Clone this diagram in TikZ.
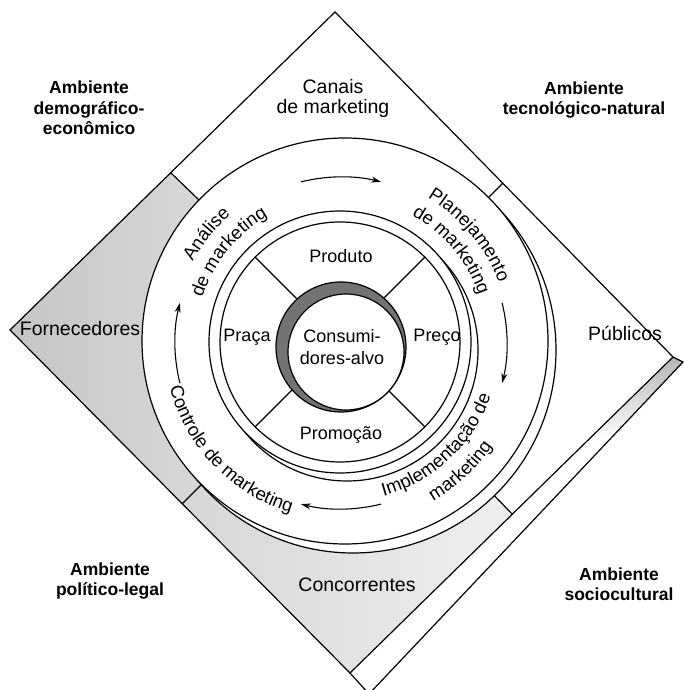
\documentclass[tikz,border=0pt]{standalone}
\usepackage{fontspec}
\setmainfont{Liberation Sans}
\usetikzlibrary{arrows.meta}
\usetikzlibrary{decorations.text}

\newcommand\envfont{\fontsize{17.5}{20.5}\selectfont\bfseries}
\newcommand\actfont{\fontsize{19.5}{20}\selectfont}
\newcommand\procfont{\fontsize{18.5}{20}\selectfont}
\newcommand\mixfont{\fontsize{18}{22}\selectfont}

\tikzset{rim/.style={draw=black,line width=1.2pt},
         disk/.style={rim,fill=white},
         envlabel/.style={align=center,font=\envfont,inner sep=0pt},
         actlabel/.style={align=center,font=\actfont,inner sep=0pt},
         mixlabel/.style={align=center,font=\mixfont,inner sep=0pt},
         cycle arrow/.style={line width=1.1pt,-{Stealth[length=10pt,width=6pt]}},
         arc text/.style={decorate,decoration={text along path,text align=center,text={|\procfont|#1}}},
         }

\begin{document}
\begin{tikzpicture}[x=1pt,y=1pt]
\useasboundingbox (0,0) rectangle (684,690);

% corners of the board and of its lower edge
\coordinate (top) at (335,678);
\coordinate (right) at (673,333);
\coordinate (bottom) at (350,17);
\coordinate (left) at (10,360);
\coordinate (rightlow) at (683,328);
\coordinate (bottomlow) at (369,-4);

% centres of the disks
\coordinate (oc) at (345,349);
\coordinate (ac) at (341,347);
\coordinate (pc) at (340,348);
\coordinate (dc) at (341,343);
\coordinate (cc) at (346,338);

% shaded sectors and dividers of the board
\begin{scope}
  \clip (top) -- (right) -- (bottom) -- (left) -- cycle;
  \shade[left color=gray!55,right color=gray!20] (oc) -- ++(136:420) arc[start angle=136,end angle=225,radius=420] -- cycle;
  \shade[left color=gray!40,right color=gray!5] (oc) -- ++(225:420) arc[start angle=225,end angle=314,radius=420] -- cycle;
  \foreach \a in {45,136,225,314}
    \draw[rim] (oc) -- ++(\a:420);
\end{scope}
\begin{scope}
  \clip (right) -- (rightlow) -- (bottomlow) -- (bottom) -- cycle;
  \shade[top color=gray!60,bottom color=white] (560,250) rectangle (690,335);
\end{scope}
\draw[rim] (top) -- (right) -- (bottom) -- (left) -- cycle;
\draw[rim] (right) -- (rightlow) -- (bottomlow) -- (bottom);

% marketing process ring
\draw[disk] ([shift={(8,-9)}]oc) circle[radius=203];
\draw[disk] (oc) circle[radius=203];
\foreach \a in {90,0,-90,180}
  \draw[cycle arrow] ([shift={(\a+14:166)}]ac) arc[start angle=\a+14,end angle=\a-14,radius=166];

\path[arc text=Análise] ([shift={(201:169)}]ac) arc[start angle=201,end angle=81,radius=169];
\path[arc text=de marketing] ([shift={(201:146)}]ac) arc[start angle=201,end angle=81,radius=146];
\path[arc text=Planejamento] ([shift={(100:169)}]ac) arc[start angle=100,end angle=-20,radius=169];
\path[arc text=de marketing] ([shift={(100:146)}]ac) arc[start angle=100,end angle=-20,radius=146];
\path[arc text=Controle de marketing] ([shift={(164:177)}]ac) arc[start angle=164,end angle=284,radius=177];
\path[arc text=Implementação de] ([shift={(253:159)}]ac) arc[start angle=253,end angle=373,radius=159];
\path[arc text=marketing] ([shift={(253:183)}]ac) arc[start angle=253,end angle=373,radius=183];

% 4P disk
\draw[disk] ([shift={(7,-8)}]pc) circle[radius=131];
\draw[disk] (pc) circle[radius=131];
\draw[rim] (pc) circle[radius=120];
\foreach \a in {45,135,225,315}
  \draw[rim] ([shift={(\a:60)}]pc) -- ([shift={(\a:120)}]pc);

% target consumers
\draw[rim,fill=black!55] (dc) circle[radius=65];
\draw[disk] (cc) circle[radius=58];

% labels
\node[envlabel] (demo) at (89,582) {Ambiente\\demográfico-\\econômico};
\node[envlabel] (tecno) at (584,590) {Ambiente\\tecnológico-natural};
\node[envlabel] (polit) at (110,109) {Ambiente\\político-legal};
\node[envlabel] (socio) at (619,106) {Ambiente\\sociocultural};
\node[actlabel] (canais) at (333,592) {Canais\\de marketing};
\node[actlabel] (forn) at (80,361) {Fornecedores};
\node[actlabel] (publ) at (625,357) {Públicos};
\node[actlabel] (conc) at (357,105) {Concorrentes};
\node[mixlabel] (prod) at (341,434) {Produto};
\node[mixlabel] (praca) at (247,353) {Praça};
\node[mixlabel] (preco) at (437,353) {Preço};
\node[mixlabel] (promo) at (341,255) {Promoção};
\node[mixlabel] (cons) at (342,343) {Consumi-\\dores-alvo};
\end{tikzpicture}
\end{document}
